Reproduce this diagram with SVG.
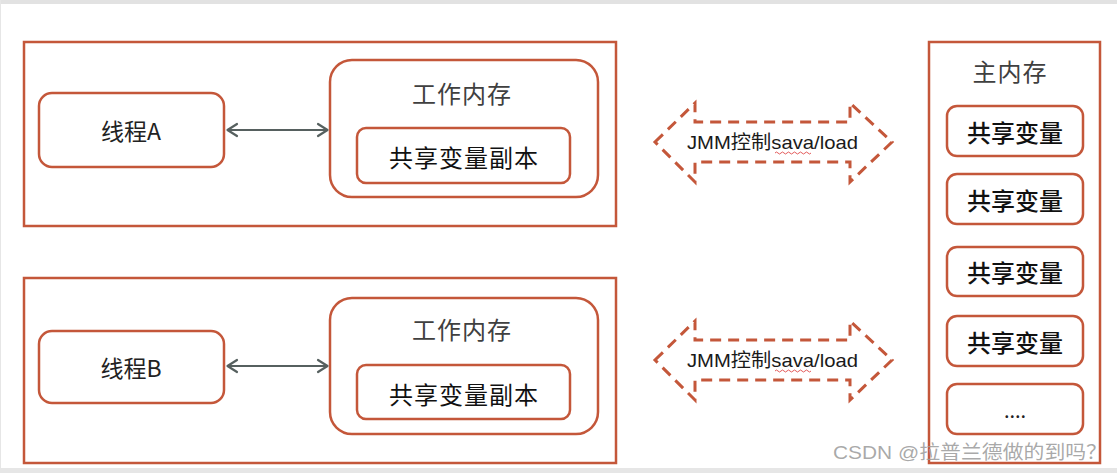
<svg xmlns="http://www.w3.org/2000/svg" width="1117" height="473" viewBox="0 0 1117 473">
<style>
.frame{fill:#fff;stroke:#C4573A;stroke-width:2.5}
.rbox{fill:#fff;stroke:#C4573A;stroke-width:2.5}
.cjk{font-family:"Noto Sans CJK SC","Noto Sans",sans-serif;text-anchor:middle;dominant-baseline:central}
.gray{fill:#404040;font-size:24px;letter-spacing:1px}
.thr{fill:#222;font-size:23px}
.blk{fill:#111;font-size:24px;letter-spacing:1px}
.bold{fill:#111;font-size:24px;font-weight:500}
.conn{stroke:#56605F;stroke-width:2.2;fill:none}
.head{stroke:#56605F;stroke-width:2.2;fill:none;stroke-linecap:round;stroke-linejoin:round}
.dash{fill:none;stroke:#C4573A;stroke-width:3;stroke-dasharray:11 7}
.jmm{font-family:"Liberation Sans","Noto Sans CJK SC",sans-serif;font-size:19px;fill:#1a1a1a;dominant-baseline:central}
.wave{fill:none;stroke:#E04848;stroke-width:0.9}
</style>
<rect x="0" y="0" width="1117" height="473" fill="#fff"/>
<rect x="0" y="0" width="1117" height="4" fill="#e2e2e2"/>
<rect x="0" y="468" width="1117" height="5" fill="#e6e6e6"/>
<rect x="0" y="0" width="1" height="473" fill="#e6e6e6"/>

<g id="groupA">
<rect class="frame" x="24" y="42" width="592" height="184"/>
</g>
<g id="threadA">
<rect class="rbox" x="39" y="93" width="185" height="74" rx="13"/>
<text class="cjk thr" x="131" y="130">线程A</text>
</g>
<g id="workA">
<rect class="rbox" x="330" y="60" width="268" height="137" rx="22"/>
<text class="cjk gray" x="462" y="92">工作内存</text>
</g>
<g id="copyA">
<rect class="rbox" x="357" y="128" width="213" height="55" rx="9"/>
<text class="cjk blk" x="464" y="156">共享变量副本</text>
</g>

<g id="groupB">
<rect class="frame" x="24" y="278" width="592" height="185"/>
</g>
<g id="threadB">
<rect class="rbox" x="39" y="331" width="185" height="72" rx="13"/>
<text class="cjk thr" x="131" y="367">线程B</text>
</g>
<g id="workB">
<rect class="rbox" x="330" y="298" width="268" height="136" rx="22"/>
<text class="cjk gray" x="462" y="328">工作内存</text>
</g>
<g id="copyB">
<rect class="rbox" x="357" y="365" width="213" height="54" rx="9"/>
<text class="cjk blk" x="464" y="393">共享变量副本</text>
</g>

<g id="mainMemory">
<rect class="frame" x="929" y="42" width="171" height="421"/>
<text class="cjk gray" x="1010" y="70">主内存</text>
</g>
<g id="var1">
<rect class="rbox" x="947" y="106" width="136" height="50" rx="10"/>
<text class="cjk bold" x="1015" y="131">共享变量</text>
</g>
<g id="var2">
<rect class="rbox" x="947" y="174" width="136" height="50" rx="10"/>
<text class="cjk bold" x="1015" y="199">共享变量</text>
</g>
<g id="var3">
<rect class="rbox" x="947" y="247" width="136" height="49" rx="10"/>
<text class="cjk bold" x="1015" y="271">共享变量</text>
</g>
<g id="var4">
<rect class="rbox" x="947" y="316" width="136" height="50" rx="10"/>
<text class="cjk bold" x="1015" y="341">共享变量</text>
</g>
<g id="var5">
<rect class="rbox" x="947" y="384" width="136" height="50" rx="10"/>
<text class="cjk" x="1015" y="409" style="font-size:20px;fill:#222">....</text>
</g>

<g id="jmmA">
<polygon class="dash" points="655,142 695,103 695,122 850,122 850,103 892,142 850,182 850,162 695,162 695,182"/>
<text class="jmm" x="687" y="142" textLength="171" lengthAdjust="spacingAndGlyphs">JMM控制sava/load</text>
<path class="wave" d="M775,153 q1.5,-2 3,0 t3,0 t3,0 t3,0 t3,0 t3,0 t3,0 t3,0 t3,0 t3,0 t3,0 t3,0"/>
</g>
<g id="jmmB">
<polygon class="dash" points="655,360 695,321 695,340 850,340 850,321 892,360 850,400 850,380 695,380 695,400"/>
<text class="jmm" x="687" y="360" textLength="171" lengthAdjust="spacingAndGlyphs">JMM控制sava/load</text>
<path class="wave" d="M775,371 q1.5,-2 3,0 t3,0 t3,0 t3,0 t3,0 t3,0 t3,0 t3,0 t3,0 t3,0 t3,0 t3,0"/>
</g>

<g id="connectors">
<line class="conn" x1="227" y1="130" x2="328" y2="130"/>
<path class="head" d="M237,124 L227.5,130 L237,136"/>
<path class="head" d="M318,124 L327.5,130 L318,136"/>
<line class="conn" x1="227" y1="366" x2="328" y2="366"/>
<path class="head" d="M237,360 L227.5,366 L237,372"/>
<path class="head" d="M318,360 L327.5,366 L318,372"/>
</g>

<text x="833" y="452" textLength="274" lengthAdjust="spacingAndGlyphs" style="font-family:'Liberation Sans','Noto Sans CJK SC',sans-serif;font-size:19px;fill:#9a9a9a;fill-opacity:0.85;dominant-baseline:central">CSDN @拉普兰德做的到吗？</text>
</svg>
